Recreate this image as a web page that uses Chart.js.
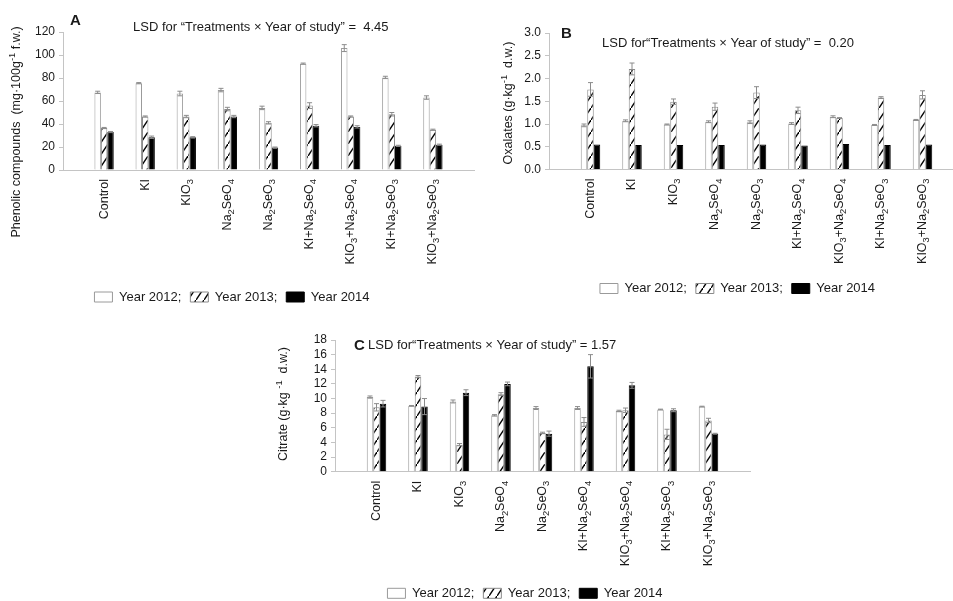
<!DOCTYPE html>
<html>
<head>
<meta charset="utf-8">
<script src="https://cdn.jsdelivr.net/npm/chart.js@4.4.0/dist/chart.umd.min.js"></script>
<style>
  html, body { margin: 0; padding: 0; background: #fff; overflow: hidden; width: 953px; height: 601px; }
  canvas { position: absolute; }
</style>
</head>
<body>
<canvas id="chartA"></canvas>
<canvas id="chartB"></canvas>
<canvas id="chartC"></canvas>
<script>
// Treatments ("_" marks a subscript character, "^{..}" a superscript)
const treatments = ['Control', 'KI', 'KIO_3', 'Na_2SeO_4', 'Na_2SeO_3',
  'KI+Na_2SeO_4', 'KIO_3+Na_2SeO_4', 'KI+Na_2SeO_3', 'KIO_3+Na_2SeO_3'];
const years = ['Year 2012;', 'Year 2013;', 'Year 2014'];

// A: phenolic compounds, mg·100 g-1 f.w.
const phenolic2012 = [67.5, 75.5, 66.5, 69.5, 54, 92.5, 106, 80.5, 63];
const phenolic2013 = [36.5, 46.5, 46.5, 53, 41, 56, 46.5, 48.5, 35];
const phenolic2014 = [33, 28.5, 28.5, 46.5, 19.5, 38.5, 37.5, 21, 22];
const phenolicErr2012 = [1, 0.5, 2, 1.5, 1.5, 0.5, 3, 1, 1.5];
const phenolicErr2013 = [0.5, 0.5, 1, 1.5, 1, 2.5, 0.5, 1.5, 0.5];
const phenolicErr2014 = [0.5, 1, 0.5, 1, 0.5, 1, 1, 0.5, 0.5];
const phenolicAxis = [0, 120, 20];

// B: oxalates, g·kg-1 d.w.
const oxalates2012 = [0.97, 1.07, 0.99, 1.05, 1.04, 1.01, 1.16, 0.98, 1.09];
const oxalates2013 = [1.76, 2.21, 1.49, 1.38, 1.69, 1.30, 1.13, 1.58, 1.64];
const oxalates2014 = [0.55, 0.54, 0.54, 0.54, 0.55, 0.53, 0.56, 0.54, 0.55];
const oxalatesErr2012 = [0.03, 0.02, 0.01, 0.02, 0.03, 0.02, 0.02, 0.01, 0.01];
const oxalatesErr2013 = [0.15, 0.13, 0.06, 0.08, 0.13, 0.07, 0.01, 0.02, 0.09];
const oxalatesErr2014 = [0, 0, 0, 0, 0, 0, 0, 0, 0];
const oxalatesAxis = [0, 3, 0.5];

// C: citrate, g·kg-1 d.w.
const citrate2012 = [10.2, 9.0, 9.6, 7.7, 8.7, 8.7, 8.3, 8.5, 8.9];
const citrate2013 = [8.8, 13.0, 3.7, 10.6, 5.3, 6.8, 8.4, 5.1, 7.0];
const citrate2014 = [9.3, 8.9, 10.8, 12.0, 5.2, 14.4, 11.8, 8.4, 5.2];
const citrateErr2012 = [0.15, 0.05, 0.2, 0.1, 0.2, 0.2, 0.1, 0.05, 0.05];
const citrateErr2013 = [0.5, 0.15, 0.15, 0.2, 0.1, 0.6, 0.3, 0.7, 0.3];
const citrateErr2014 = [0.45, 1.1, 0.4, 0.25, 0.35, 1.6, 0.4, 0.2, 0.05];
const citrateAxis = [0, 18, 2];

const FONT = '"Liberation Sans", Arial, Helvetica, sans-serif';
const TEXT = '#1a1a1a';
const AXIS = '#c4c4c4';

// split "Na_2SeO_4" / "g^{-1}" into normal, sub and sup runs
function parseRich(s) {
  const runs = [];
  let buf = '', i = 0;
  while (i < s.length) {
    const c = s[i];
    if (c === '_' || c === '^') {
      if (buf) { runs.push({ t: buf, k: 0 }); buf = ''; }
      let tok;
      if (s[i + 1] === '{') { const j = s.indexOf('}', i); tok = s.slice(i + 2, j); i = j + 1; }
      else { tok = s[i + 1]; i += 2; }
      runs.push({ t: tok, k: c === '_' ? 1 : -1 });
    } else { buf += c; i++; }
  }
  if (buf) runs.push({ t: buf, k: 0 });
  return runs;
}

// text rotated to read bottom-to-top
function drawRich(ctx, text, x, y, size, align) {
  const runs = parseRich(text);
  const small = size * 0.75;
  ctx.save();
  ctx.translate(x, y);
  ctx.rotate(-Math.PI / 2);
  ctx.fillStyle = TEXT;
  ctx.textBaseline = 'middle';
  ctx.textAlign = 'left';
  let total = 0;
  runs.forEach(r => { ctx.font = (r.k ? small : size) + 'px ' + FONT; r.w = ctx.measureText(r.t).width; total += r.w; });
  let cx = align === 'right' ? -total : (align === 'center' ? -total / 2 : 0);
  runs.forEach(r => {
    ctx.font = (r.k ? small : size) + 'px ' + FONT;
    const dy = r.k === 1 ? size * 0.32 : (r.k === -1 ? -size * 0.38 : 0);
    ctx.fillText(r.t, cx, dy);
    cx += r.w;
  });
  ctx.restore();
}

const panelDecor = {
  id: 'panelDecor',
  afterDraw(chart, args, o) {
    const ctx = chart.ctx, xs = chart.scales.x, area = chart.chartArea;
    chart.data.labels.forEach((lab, i) => {
      if (!lab) return;
      drawRich(ctx, lab, xs.getPixelForValue(i), area.bottom + o.labelGap, 12.5, 'right');
    });
    drawRich(ctx, o.yTitle, o.yTitleX - o.left, o.yTitleY - o.top, 12.5, 'center');
    ctx.save();
    ctx.fillStyle = TEXT;
    ctx.textBaseline = 'middle';
    ctx.textAlign = 'left';
    ctx.font = 'bold 15px ' + FONT;
    ctx.fillText(o.letter, o.letterX - o.left, o.letterY - o.top);
    ctx.font = '13px ' + FONT;
    ctx.fillText(o.lsd, o.lsdX - o.left, o.lsdY - o.top);
    ctx.restore();
  }
};

const errorBars = {
  id: 'errorBars',
  afterDatasetsDraw(chart) {
    const ctx = chart.ctx, ys = chart.scales.y;
    chart.data.datasets.forEach((ds, di) => {
      const meta = chart.getDatasetMeta(di);
      meta.data.forEach((bar, i) => {
        const v = ds.data[i], e = ds.errors[i];
        if (v == null || !e) return;
        const x = bar.x;
        const y1 = ys.getPixelForValue(v + e), y2 = ys.getPixelForValue(v - e);
        ctx.save();
        ctx.strokeStyle = '#8c8c8c';
        ctx.lineWidth = 1;
        ctx.beginPath();
        ctx.moveTo(x, y1); ctx.lineTo(x, y2);
        ctx.moveTo(x - 2.5, y1); ctx.lineTo(x + 2.5, y1);
        ctx.moveTo(x - 2.5, y2); ctx.lineTo(x + 2.5, y2);
        ctx.stroke();
        ctx.restore();
      });
    });
  }
};

function makeHatch(ctx) {
  const tile = document.createElement('canvas');
  tile.width = 8; tile.height = 12;
  const g = tile.getContext('2d');
  g.fillStyle = '#fff';
  g.fillRect(0, 0, 8, 12);
  g.strokeStyle = '#000';
  g.lineWidth = 1.4;
  g.beginPath();
  g.moveTo(-2, 15); g.lineTo(10, -3);
  g.stroke();
  return ctx.createPattern(tile, 'repeat');
}

const pad = arr => [null, ...arr, null];

function buildPanel(id, L, axis, series, errs, txt, tickFmt) {
  const cv = document.getElementById(id);
  cv.width = L.width; cv.height = L.height;
  cv.style.left = L.left + 'px'; cv.style.top = L.top + 'px';
  const ctx = cv.getContext('2d');
  const fills = ['#ffffff', makeHatch(ctx), '#000000'];
  const borders = ['#9a9a9a', '#8a8a8a', '#000000'];
  return new Chart(ctx, {
    type: 'bar',
    data: {
      labels: ['', ...treatments, ''],
      datasets: years.map((y, i) => ({
        label: y,
        data: pad(series[i]),
        errors: pad(errs[i]),
        backgroundColor: fills[i],
        borderColor: borders[i],
        borderWidth: 1
      }))
    },
    options: {
      responsive: false,
      animation: false,
      devicePixelRatio: 1,
      events: [],
      layout: { padding: { left: L.padL, right: L.padR, top: L.padT, bottom: L.padB } },
      datasets: { bar: { barPercentage: 1, categoryPercentage: 0.47 } },
      scales: {
        x: {
          type: 'category',
          offset: false,
          grid: { display: false },
          border: { display: true, color: AXIS, width: 1 },
          ticks: { display: false },
          afterFit(s) { s.height = L.axisH; }
        },
        y: {
          min: axis[0], max: axis[1],
          ticks: {
            stepSize: axis[2],
            autoSkip: false,
            color: TEXT,
            padding: 4,
            font: { family: FONT, size: 12 },
            callback: tickFmt
          },
          grid: { display: true, drawOnChartArea: false, drawTicks: true, tickLength: 4, color: AXIS },
          border: { display: true, color: AXIS, width: 1 },
          afterFit(s) { s.width = L.yW; }
        }
      },
      plugins: {
        legend: {
          display: true,
          position: 'bottom',
          labels: {
            boxWidth: 18,
            boxHeight: 10,
            padding: 9,
            color: TEXT,
            font: { family: FONT, size: 13 }
          }
        },
        tooltip: { enabled: false },
        panelDecor: Object.assign({ left: L.left, top: L.top, labelGap: 9 }, txt)
      }
    },
    plugins: [panelDecor, errorBars]
  });
}

buildPanel('chartA',
  { left: -20, top: 0, width: 500, height: 320, padL: 10, padR: 6, padT: 32, padB: 6.5, yW: 73, axisH: 111.5 },
  phenolicAxis,
  [phenolic2012, phenolic2013, phenolic2014],
  [phenolicErr2012, phenolicErr2013, phenolicErr2014],
  {
    letter: 'A', letterX: 70, letterY: 21,
    lsd: 'LSD for \u201cTreatments \u00d7 Year of study\u201d =  4.45', lsdX: 133, lsdY: 27,
    yTitle: 'Phenolic compounds  (mg\u00b7100g^{-1} f.w.)', yTitleX: 17, yTitleY: 132
  },
  v => v);

buildPanel('chartB',
  { left: 495, top: 0, width: 469, height: 320, padL: 16, padR: 0, padT: 33, padB: 15, yW: 38, axisH: 103.5 },
  oxalatesAxis,
  [oxalates2012, oxalates2013, oxalates2014],
  [oxalatesErr2012, oxalatesErr2013, oxalatesErr2014],
  {
    letter: 'B', letterX: 561, letterY: 34,
    lsd: 'LSD for\u201cTreatments \u00d7 Year of study\u201d =  0.20', lsdX: 602, lsdY: 43,
    yTitle: 'Oxalates (g\u00b7kg^{-1}  d.w.)', yTitleX: 509, yTitleY: 103
  },
  v => Number(v).toFixed(1));

buildPanel('chartC',
  { left: 265, top: 320, width: 490, height: 300, padL: 35, padR: 5, padT: 20, padB: 10.2, yW: 35, axisH: 106.1 },
  citrateAxis,
  [citrate2012, citrate2013, citrate2014],
  [citrateErr2012, citrateErr2013, citrateErr2014],
  {
    letter: 'C', letterX: 354, letterY: 345.5,
    lsd: 'LSD for\u201cTreatments \u00d7 Year of study\u201d = 1.57', lsdX: 368, lsdY: 345.5,
    yTitle: 'Citrate (g\u00b7kg ^{-1}  d.w.)', yTitleX: 284, yTitleY: 404
  },
  v => v);
</script>
</body>
</html>
